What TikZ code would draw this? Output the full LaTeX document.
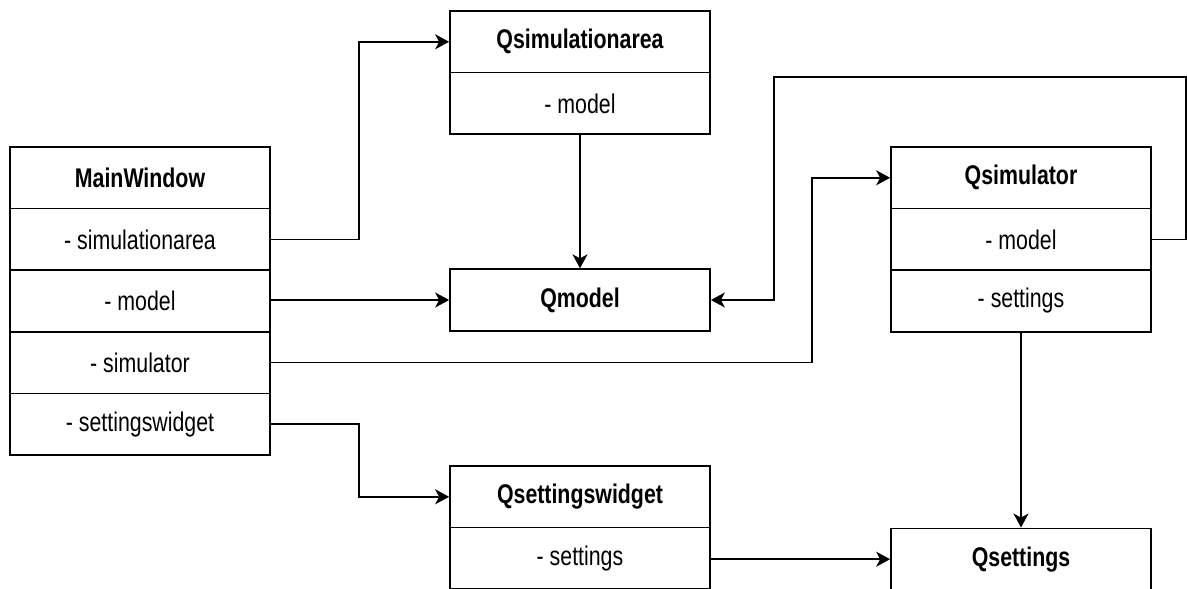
\documentclass[tikz,border=0pt]{standalone}
\usepackage{graphicx}
\usepackage{fontspec}
\setmainfont{Liberation Sans}
\usetikzlibrary{arrows.meta}
% condensed class text
\newcommand\narrow[1]{\scalebox{0.79}[1]{#1}}
\tikzset{
  cell/.style={draw, line width=1.7pt, minimum width=260pt, minimum height=61.6pt,
    inner sep=0pt, font=\fontsize{27}{30}\selectfont},
  head/.style={cell, font=\fontsize{27}{30}\selectfont\bfseries},
  link/.style={line width=1.7pt, -{Stealth[length=14pt,width=15pt,inset=4pt]}},
}
\begin{document}
\begin{tikzpicture}[x=1pt,y=-1pt]
\useasboundingbox[fill=white] (0,0) rectangle (1187,589);

% MainWindow
\node[head] (mwh) at (140,177.8) {\narrow{MainWindow}};
\node[cell] (mw1) at (140,239.4) {\narrow{- simulationarea}};
\node[cell] (mw2) at (140,301.0) {\narrow{- model}};
\node[cell] (mw3) at (140,362.6) {\narrow{- simulator}};
\node[cell] (mw4) at (140,424.2) {\narrow{- settingswidget}};

% Qsimulationarea
\node[head] (sah) at (580,41.8) {\narrow{Qsimulationarea}};
\node[cell] (sa1) at (580,103.4) {\narrow{- model}};

% Qmodel
\node[head] (qm) at (580,300) {\narrow{Qmodel}};

% Qsimulator
\node[head] (qsh) at (1021,177.8) {\narrow{Qsimulator}};
\node[cell] (qs1) at (1021,239.4) {\narrow{- model}};
\node[cell] (qs2) at (1021,301.0) {\narrow{- settings}};

% Qsettingswidget
\node[head] (swh) at (580,496.8) {\narrow{Qsettingswidget}};
\node[cell] (sw1) at (580,558.4) {\narrow{- settings}};

% Qsettings
\node[head] (qst) at (1021,559.2) {\narrow{Qsettings}};

% bend points
\coordinate (b1) at (359,239.4);
\coordinate (b3) at (812,362.6);
\coordinate (b4) at (359,424.2);
\coordinate (r1) at (1186,239.4);
\coordinate (r2) at (1186,77);
\coordinate (r3) at (774,77);
\coordinate (r4) at (774,300);

% connectors
\draw[link] (mw1.east) -- (b1) |- (sah.west);
\draw[link] (mw2.east |- qm.west) -- (qm.west);
\draw[link] (mw3.east) -- (b3) |- (qsh.west);
\draw[link] (mw4.east) -- (b4) |- (swh.west);
\draw[link] (sa1.south) -- (qm.north);
\draw[link] (qs1.east) -- (r1) -- (r2) -- (r3) -- (r4) -- (qm.east);
\draw[link] (qs2.south) -- (qst.north);
\draw[link] (sw1.east |- qst.west) -- (qst.west);
\end{tikzpicture}
\end{document}
